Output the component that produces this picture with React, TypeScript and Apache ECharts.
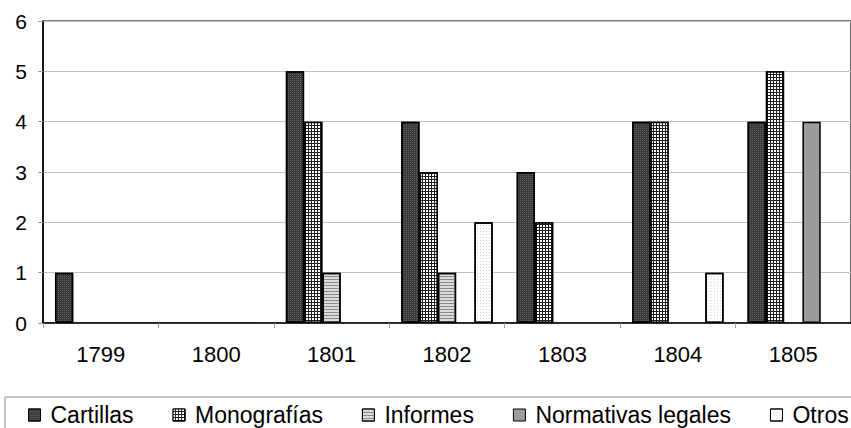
import React, { useEffect, useRef } from "react";
import * as echarts from "echarts";

const categories = ["1799", "1800", "1801", "1802", "1803", "1804", "1805"];
const seriesNames = ["Cartillas", "Monografías", "Informes", "Normativas legales", "Otros"];
const cartillas = [1, 0, 5, 4, 3, 4, 4];
const monografias = [0, 0, 4, 3, 2, 4, 5];
const informes = [0, 0, 1, 1, 0, 0, 0];
const normativas = [0, 0, 0, 0, 0, 0, 4];
const otros = [0, 0, 0, 2, 0, 1, 0];
const yTicks = [0, 1, 2, 3, 4, 5, 6];

const FONT = "Arial";

export default function App() {
  const ref = useRef<HTMLDivElement>(null);
  useEffect(() => {
    if (!ref.current) return;
    const chart = echarts.init(ref.current, null, { renderer: "svg" });
    const values = [cartillas, monografias, informes, normativas, otros];
    const styles: any[] = [
      {
        color: "#3a3a3a",
        decal: { symbol: "rect", symbolSize: 1, dashArrayX: [1, 1], dashArrayY: [1, 1], color: "#5e5e5e" },
      },
      {
        color: "#1e1e1e",
        decal: { symbol: "rect", symbolSize: 1, dashArrayX: [2, 1], dashArrayY: [2, 1], color: "#ffffff" },
      },
      {
        color: "#dcdcdc",
        decal: { symbol: "rect", symbolSize: 1, dashArrayX: [1, 0], dashArrayY: [1, 2], color: "#8a8a8a" },
      },
      { color: "#9c9c9c" },
      {
        color: "#ffffff",
        decal: { symbol: "rect", symbolSize: 1, dashArrayX: [1, 2], dashArrayY: [1, 2], color: "#d6d6d6" },
      },
    ];
    chart.setOption({
      animation: false,
      textStyle: { fontFamily: FONT },
      grid: {
        left: 43,
        top: 21,
        width: 816,
        height: 302,
        show: true,
        borderColor: "#000",
        borderWidth: 1.2,
        backgroundColor: "transparent",
      },
      legend: {
        left: 5,
        top: 397,
        width: 900,
        orient: "horizontal",
        padding: [6, 23, 6, 23],
        borderColor: "#8c8c8c",
        borderWidth: 1,
        icon: "rect",
        itemWidth: 12,
        itemHeight: 12,
        itemGap: 39,
        data: seriesNames,
        itemStyle: { borderColor: "#000", borderWidth: 1 },
        textStyle: {
          fontFamily: FONT,
          fontSize: 23,
          color: "#000",
          lineHeight: 24,
          padding: [0, 0, 0, 5],
        },
      },
      xAxis: {
        type: "category",
        data: categories,
        boundaryGap: true,
        axisLine: { show: true, lineStyle: { color: "#000", width: 1.5 } },
        axisTick: { show: true, length: 5, lineStyle: { color: "#999" } },
        axisLabel: { fontFamily: FONT, fontSize: 22, color: "#000", margin: 20, lineHeight: 22 },
        splitLine: { show: false },
      },
      yAxis: {
        type: "value",
        min: yTicks[0],
        max: yTicks[yTicks.length - 1],
        interval: 1,
        axisLine: { show: true, lineStyle: { color: "#000", width: 1.5 } },
        axisTick: { show: true, length: 5, lineStyle: { color: "#999" } },
        axisLabel: { fontFamily: FONT, fontSize: 21, color: "#000", margin: 16 },
        splitLine: { show: true, lineStyle: { color: "#c0c0c0", width: 1 } },
      },
      series: seriesNames.map((name, i) => ({
        name,
        type: "bar",
        data: values[i].map((v) => (v === 0 ? null : v)),
        barWidth: 18.3,
        barGap: "0%",
        itemStyle: { ...styles[i], borderColor: "#000", borderWidth: 1.5 },
      })),
    });
    return () => chart.dispose();
  }, []);
  return (
    <div
      ref={ref}
      style={{ position: "fixed", left: 0, top: 0, width: 851, height: 428, background: "#fff" }}
    />
  );
}
